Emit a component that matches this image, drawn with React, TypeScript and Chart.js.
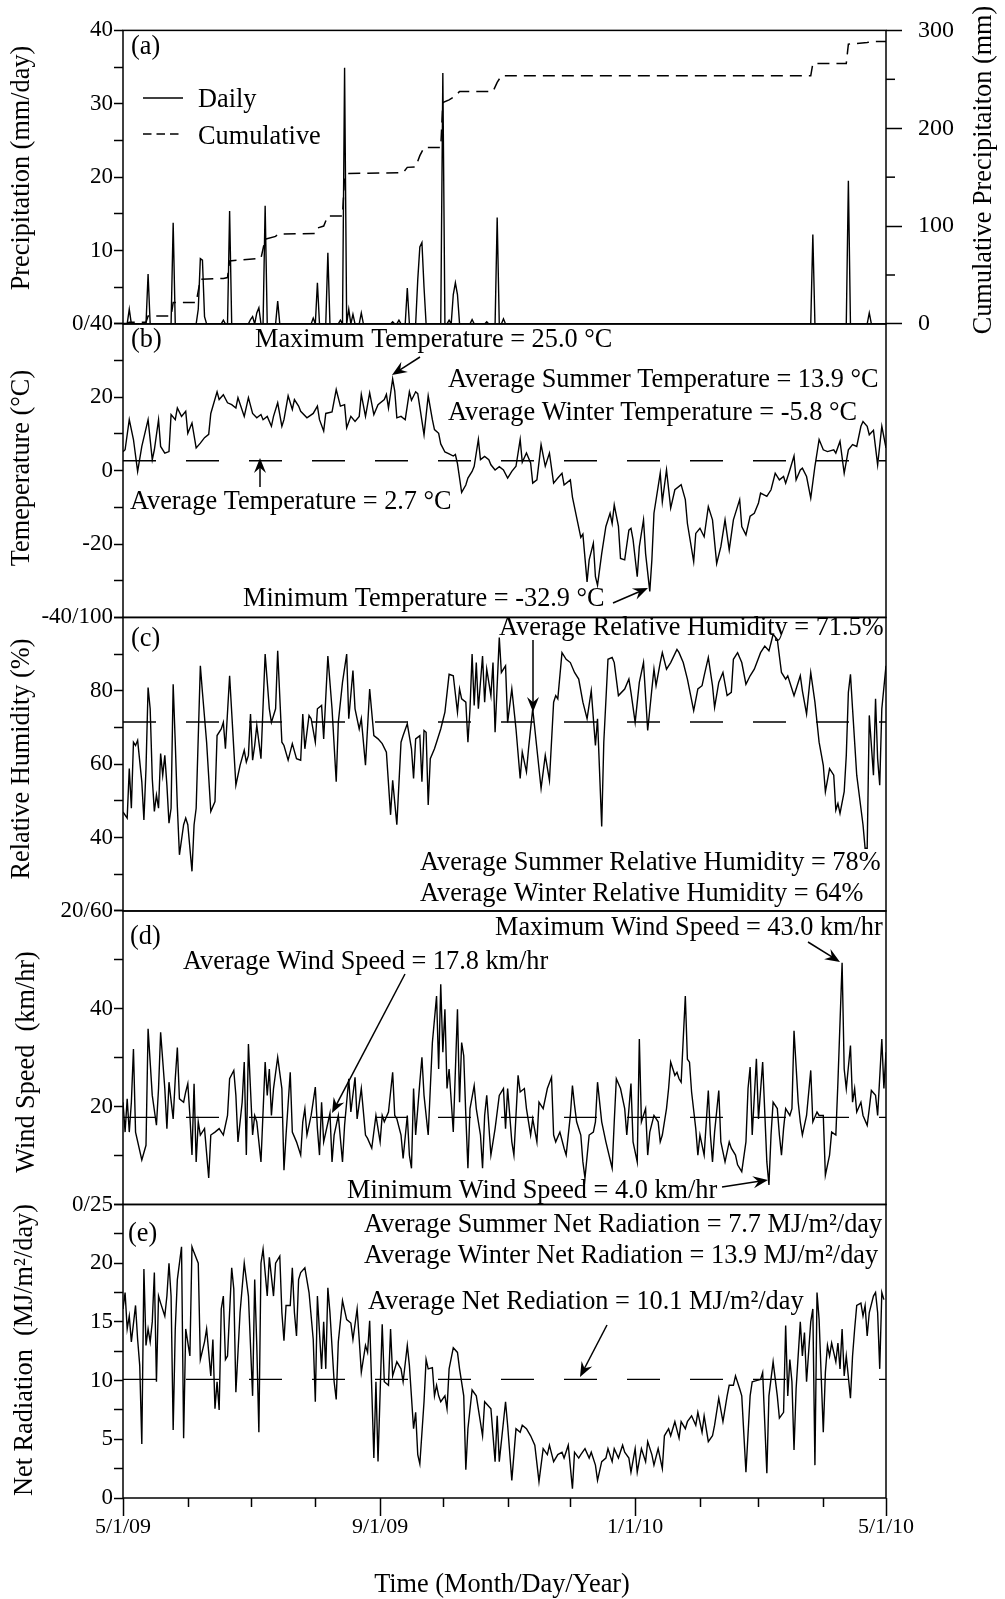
import React, { useEffect, useRef } from 'react';
import { Chart, registerables } from 'chart.js';

Chart.register(...registerables);

// ---------- axis categories (days since 5/1/09) ----------
const monthTickDays = [0, 31, 61, 92, 123, 153, 184, 214, 245, 276, 304, 335, 365];
const monthTickLabels = ['5/1/09', '', '', '', '9/1/09', '', '', '', '1/1/10', '', '', '', '5/1/10'];
const cumTickValues = [0, 50, 100, 150, 200, 250, 300];

// ---------- (a) precipitation ----------
const precipDays = [3, 12, 24, 36, 37, 38, 39, 48, 51, 61, 62, 64, 65, 68, 74, 91, 93, 98, 104, 106, 108, 110, 114, 129, 132, 136, 141, 142, 143, 144, 153, 156, 158, 159, 160, 167, 174, 179, 182, 330, 347, 357];
const precipValues = [2.0, 6.8, 13.8, 2.0, 8.9, 8.7, 1.0, 0.5, 15.4, 0.6, 1.0, 1.5, 2.2, 16.1, 3.1, 0.8, 5.6, 9.7, 0.5, 34.9, 2.0, 1.3, 1.5, 0.3, 0.5, 4.9, 6.0, 10.5, 11.1, 5.0, 34.2, 0.5, 4.0, 5.6, 4.0, 0.6, 0.3, 14.5, 0.7, 12.2, 19.5, 1.5];
const cumDays = [0, 2, 3, 11, 12, 23, 24, 35, 36, 37, 48, 50, 51, 66, 68, 73, 74, 92, 93, 96, 98, 105, 106, 108, 134, 136, 140, 142, 144, 152, 153, 156, 159, 161, 177, 179, 181, 329, 330, 346, 347, 356, 358, 365];
const cumValues = [0.5, 0.8, 1.8, 1.8, 8.2, 8.2, 21.8, 21.8, 33.7, 45.7, 46.5, 47.4, 64.4, 67.0, 86.6, 89.5, 91.7, 92.5, 98.0, 100.0, 110.4, 110.4, 151.3, 153.7, 154.5, 160.0, 160.5, 172.0, 180.3, 180.3, 226.3, 229.0, 233.0, 237.6, 237.6, 246.8, 253.6, 253.6, 266.2, 266.2, 286.0, 287.6, 288.6, 288.6];

// ---------- (b) temperature ----------
const tempDays = [
  0, 1, 3, 5, 7, 9, 12, 14, 15, 17,
  18, 20, 22, 23, 25, 26, 28, 30, 31, 33,
  35, 37, 39, 41, 42, 45, 46, 48, 50, 52,
  54, 55, 58, 60, 62, 64, 66, 67, 69, 71,
  72, 74, 76, 77, 79, 81, 82, 84, 85, 88,
  89, 91, 93, 94, 96, 97, 100, 102, 104, 106,
  107, 109, 111, 113, 114, 116, 118, 120, 122, 125,
  126, 127, 129, 130, 131, 133, 135, 137, 138, 140,
  141, 142, 144, 146, 148, 149, 151, 152, 154, 156,
  158, 159, 160, 162, 164, 165, 167, 168, 170, 171,
  173, 175, 176, 178, 180, 182, 184, 186, 188, 190,
  191, 193, 195, 196, 198, 200, 202, 204, 206, 208,
  210, 211, 214, 215, 217, 219, 220, 222, 223, 225,
  226, 227, 229, 231, 233, 234, 235, 237, 238, 240,
  242, 243, 244, 246, 247, 248, 249, 250, 252, 253,
  254, 257, 258, 260, 262, 264, 267, 269, 270, 273,
  274, 276, 278, 280, 282, 284, 286, 288, 290, 292,
  295, 296, 298, 300, 302, 304, 305, 308, 310, 312,
  314, 316, 317, 319, 321, 322, 324, 325, 327, 329,
  331, 333, 335, 337, 340, 341, 343, 345, 347, 349,
  351, 353, 354, 356, 357, 359, 361, 363, 365,
];
const tempValues = [
  5.2, 5.7, 13.9, 8.5, -0.2, 6.6, 13.9, 3.0, 5.7, 13.9,
  6.6, 4.8, 5.2, 15.3, 13.9, 17.1, 14.8, 16.2, 10.2, 13.0,
  6.2, 7.5, 9.0, 9.9, 15.6, 21.5, 19.4, 20.7, 18.5, 18.0,
  17.1, 19.9, 14.8, 19.9, 15.6, 14.4, 15.3, 13.9, 14.8, 12.1,
  14.8, 18.5, 12.1, 13.9, 20.4, 16.7, 19.4, 17.6, 16.2, 14.4,
  14.8, 15.6, 17.6, 13.9, 10.8, 15.6, 16.0, 22.1, 17.6, 18.0,
  11.7, 14.8, 13.4, 14.8, 20.8, 14.8, 21.2, 15.3, 18.0, 19.4,
  20.8, 17.1, 25.0, 21.7, 14.4, 14.8, 13.9, 21.5, 19.2, 21.5,
  21.0, 17.3, 9.8, 20.4, 13.9, 11.2, 10.2, 7.3, 5.1, 4.6,
  4.0, 4.4, 1.9, -5.9, -3.9, -2.0, -0.2, 1.2, 8.5, 3.0,
  3.9, 3.0, 1.6, 0.2, 1.1, 0.2, -2.0, -0.2, 1.2, 8.5,
  2.3, 4.8, 2.1, -3.4, -2.5, 7.1, 1.2, 4.8, -3.4, -2.0,
  -0.7, -3.9, -2.5, -7.2, -12.7, -18.2, -17.3, -30.3, -24.3, -19.8,
  -28.9, -31.2, -22.6, -15.2, -11.6, -14.4, -9.3, -15.2, -23.9, -24.3,
  -16.2, -15.7, -18.8, -28.9, -20.7, -17.0, -13.4, -22.6, -32.9, -24.3,
  -11.6, -0.7, -8.5, 0.2, -10.2, -5.2, -3.8, -7.9, -14.4, -24.8,
  -17.1, -15.7, -18.0, -9.8, -13.4, -25.3, -20.7, -13.4, -21.6, -13.4,
  -7.9, -15.2, -17.5, -12.4, -11.6, -8.8, -6.1, -7.0, -5.2, -0.7,
  -2.5, -1.6, -3.4, 0.2, 4.0, -2.5, 0.2, 0.7, -1.6, -7.5,
  1.2, 8.5, 5.7, 5.2, 5.7, 4.8, 8.0, -0.7, 5.7, 7.1,
  6.6, 12.1, 13.4, 12.1, 9.8, 11.0, 1.6, 12.1, 6.2,
];
const avgTemperature = 2.7;

// ---------- (c) relative humidity ----------
const rhDays = [
  0, 2, 3, 4, 5, 6, 7, 9, 10, 11,
  12, 13, 14, 15, 16, 17, 18, 19, 20, 21,
  22, 23, 24, 25, 26, 27, 29, 30, 31, 33,
  34, 35, 37, 38, 40, 42, 44, 45, 47, 48,
  49, 51, 53, 54, 56, 58, 59, 60, 61, 62,
  63, 64, 66, 68, 70, 71, 73, 74, 76, 77,
  79, 81, 83, 85, 86, 87, 89, 90, 92, 93,
  95, 96, 98, 100, 102, 103, 105, 107, 108, 110,
  111, 113, 114, 116, 118, 120, 122, 124, 126, 128,
  129, 131, 133, 134, 136, 138, 139, 140, 142, 143,
  144, 145, 146, 147, 149, 150, 152, 154, 156, 158,
  160, 161, 162, 164, 165, 166, 167, 168, 169, 170,
  172, 173, 174, 176, 177, 178, 180, 181, 183, 184,
  186, 188, 190, 191, 193, 194, 196, 198, 200, 202,
  204, 206, 207, 208, 210, 212, 214, 216, 218, 220,
  222, 224, 226, 227, 229, 230, 232, 234, 235, 237,
  240, 242, 243, 245, 247, 249, 251, 253, 254, 255,
  257, 258, 260, 262, 265, 266, 268, 270, 273, 275,
  277, 278, 280, 282, 283, 285, 287, 289, 291, 292,
  294, 296, 298, 300, 302, 305, 307, 309, 310, 311,
  313, 315, 317, 318, 320, 321, 324, 325, 327, 329,
  331, 333, 335, 336, 338, 340, 341, 342, 343, 345,
  346, 347, 348, 349, 351, 353, 354, 355, 356, 357,
  359, 360, 361, 362, 363, 365,
];
const rhValues = [
  47.0, 45.3, 58.8, 48.0, 66.0, 65.1, 66.5, 55.2, 44.8, 58.8,
  80.9, 75.1, 56.1, 47.1, 51.6, 48.0, 62.9, 57.0, 62.4, 54.3,
  43.9, 48.0, 81.8, 66.0, 48.4, 35.3, 43.5, 45.3, 43.5, 30.8,
  43.5, 48.0, 86.8, 79.6, 66.0, 47.1, 49.8, 67.8, 69.6, 71.4,
  64.2, 84.1, 64.2, 54.3, 59.7, 63.8, 60.6, 62.4, 73.7, 61.1,
  65.1, 70.6, 61.5, 90.0, 75.1, 71.4, 75.1, 90.9, 66.0, 65.1,
  61.1, 65.6, 61.5, 61.1, 73.7, 64.2, 73.3, 72.4, 66.0, 75.1,
  76.0, 66.9, 89.5, 75.1, 55.2, 71.4, 82.3, 90.0, 72.4, 85.5,
  75.1, 69.6, 72.4, 59.7, 80.5, 67.8, 66.9, 65.6, 63.3, 46.2,
  55.6, 43.5, 66.0, 67.8, 71.0, 64.2, 56.1, 66.9, 67.8, 55.2,
  69.2, 68.7, 48.9, 61.5, 64.2, 66.0, 69.6, 74.2, 84.5, 84.1,
  74.2, 80.5, 77.8, 76.9, 66.0, 75.1, 90.0, 76.0, 87.7, 75.1,
  89.5, 76.9, 85.9, 78.7, 87.7, 68.7, 94.5, 85.0, 86.8, 71.4,
  80.5, 69.6, 56.1, 63.3, 57.9, 64.2, 75.1, 64.2, 53.4, 62.4,
  55.6, 76.9, 78.7, 77.8, 90.4, 88.6, 87.7, 85.0, 83.2, 76.9,
  72.4, 80.0, 65.1, 72.4, 43.0, 66.0, 88.6, 89.1, 87.7, 78.7,
  80.5, 83.2, 79.6, 71.4, 82.3, 87.7, 69.2, 80.5, 85.9, 81.4,
  87.7, 90.4, 85.9, 87.7, 91.3, 90.4, 87.7, 83.2, 74.6, 80.5,
  81.4, 84.1, 89.1, 81.4, 75.5, 82.3, 85.0, 78.7, 79.6, 88.6,
  90.4, 87.7, 81.8, 84.1, 85.9, 90.4, 92.2, 90.9, 93.1, 95.4,
  94.0, 85.0, 83.2, 84.1, 80.5, 78.7, 84.1, 80.0, 73.7, 85.0,
  76.9, 66.0, 59.7, 52.5, 58.8, 57.0, 47.5, 49.3, 46.6, 52.5,
  62.4, 79.6, 84.5, 75.1, 57.0, 48.0, 43.5, 37.1, 37.1, 73.3,
  57.0, 77.8, 61.5, 54.3, 75.1, 86.8,
];
const avgHumidity = 71.5;

// ---------- (d) wind speed ----------
const windDays = [
  0, 1, 2, 3, 4, 5, 6, 9, 11, 12,
  14, 16, 17, 18, 20, 21, 22, 24, 25, 26,
  27, 29, 30, 31, 32, 33, 34, 35, 36, 37,
  39, 41, 42, 44, 46, 48, 50, 51, 53, 54,
  55, 57, 58, 59, 60, 62, 63, 64, 66, 68,
  69, 70, 71, 72, 74, 76, 77, 78, 80, 81,
  83, 85, 86, 87, 88, 90, 92, 93, 94, 95,
  96, 99, 100, 101, 103, 105, 106, 108, 109, 111,
  112, 114, 116, 117, 119, 121, 123, 124, 125, 127,
  129, 130, 131, 133, 134, 136, 137, 138, 139, 140,
  142, 143, 144, 146, 147, 148, 150, 151, 152, 153,
  154, 155, 156, 158, 160, 161, 162, 163, 164, 165,
  166, 168, 169, 171, 172, 173, 174, 176, 178, 180,
  182, 183, 184, 186, 187, 189, 190, 192, 193, 195,
  196, 198, 199, 201, 203, 205, 206, 207, 209, 211,
  212, 214, 215, 216, 217, 219, 220, 221, 223, 225,
  226, 227, 229, 231, 234, 235, 236, 238, 240, 241,
  243, 244, 246, 247, 248, 250, 251, 252, 254, 256,
  257, 258, 260, 261, 262, 264, 265, 266, 267, 269,
  270, 271, 272, 274, 275, 276, 278, 280, 281, 282,
  283, 285, 286, 288, 290, 291, 293, 294, 296, 298,
  299, 300, 301, 303, 304, 306, 308, 309, 310, 311,
  313, 314, 315, 316, 317, 319, 320, 321, 323, 324,
  325, 327, 329, 330, 332, 333, 335, 336, 338, 339,
  341, 342, 344, 345, 346, 348, 349, 350, 351, 353,
  354, 356, 357, 358, 360, 361, 363, 364, 365,
];
const windValues = [
  20.9, 14.8, 21.6, 14.8, 20.9, 31.8, 14.8, 9.1, 12.1, 35.9,
  22.3, 16.2, 23.7, 35.2, 23.7, 15.5, 25.0, 17.5, 25.7, 32.1,
  21.6, 20.9, 23.0, 24.7, 18.2, 10.1, 24.7, 8.7, 16.9, 14.2,
  15.5, 5.4, 14.2, 14.8, 15.5, 14.2, 18.2, 25.7, 27.4, 22.3,
  12.8, 20.9, 29.1, 10.1, 32.8, 14.2, 18.2, 16.9, 8.7, 29.1,
  22.3, 27.7, 18.2, 23.7, 30.1, 23.7, 7.0, 14.2, 27.0, 14.8,
  12.8, 10.1, 16.9, 19.6, 14.2, 18.2, 24.0, 15.5, 10.1, 20.9,
  12.8, 18.6, 8.7, 14.2, 18.2, 8.7, 16.2, 25.7, 18.9, 26.0,
  17.5, 23.7, 14.2, 13.5, 11.5, 18.2, 12.8, 18.2, 16.9, 18.9,
  27.0, 18.2, 17.5, 14.2, 9.4, 18.2, 10.1, 7.4, 23.7, 14.2,
  25.0, 30.1, 22.3, 14.2, 23.7, 33.1, 42.6, 27.7, 45.0, 31.1,
  39.9, 23.7, 27.7, 14.8, 39.9, 20.9, 33.1, 30.4, 18.2, 7.4,
  19.6, 24.3, 19.6, 14.2, 7.4, 18.2, 22.3, 10.1, 15.5, 22.3,
  23.7, 15.5, 23.7, 12.8, 10.1, 26.4, 23.0, 23.7, 19.6, 14.2,
  17.5, 12.8, 20.9, 19.6, 23.7, 26.0, 14.2, 12.8, 14.8, 11.5,
  10.1, 18.2, 24.3, 20.3, 16.9, 14.2, 8.7, 5.4, 14.2, 14.8,
  16.9, 25.0, 16.9, 12.8, 7.4, 16.9, 25.7, 23.7, 19.6, 14.2,
  24.7, 12.8, 8.7, 33.8, 16.9, 19.6, 10.1, 14.8, 18.2, 16.9,
  12.8, 14.2, 19.6, 23.7, 29.1, 26.4, 27.0, 25.7, 25.0, 42.6,
  29.7, 29.1, 23.0, 15.5, 10.1, 14.2, 10.1, 23.3, 14.2, 8.7,
  14.8, 23.3, 12.8, 8.7, 12.8, 11.5, 10.1, 8.1, 6.7, 12.8,
  23.7, 28.1, 14.2, 29.8, 17.5, 29.1, 8.7, 4.0, 14.2, 20.9,
  19.6, 14.2, 10.1, 15.5, 19.6, 18.2, 19.6, 35.5, 20.9, 16.9,
  14.2, 18.2, 27.4, 16.9, 18.9, 18.2, 18.2, 6.0, 10.1, 14.8,
  14.2, 25.0, 49.4, 27.7, 23.7, 32.5, 20.9, 23.7, 18.9, 20.9,
  18.2, 16.2, 19.6, 23.3, 22.3, 18.2, 33.8, 23.7, 31.1,
];
const avgWind = 17.8;

// ---------- (e) net radiation ----------
const radDays = [
  0, 1, 2, 3, 4, 6, 7, 8, 9, 10,
  11, 12, 13, 14, 15, 16, 17, 18, 20, 21,
  22, 23, 24, 25, 26, 28, 29, 30, 32, 33,
  34, 36, 37, 39, 40, 42, 43, 44, 45, 46,
  47, 48, 49, 50, 52, 53, 54, 56, 58, 60,
  62, 63, 64, 65, 66, 67, 69, 70, 72, 73,
  75, 76, 77, 78, 80, 81, 82, 83, 84, 85,
  87, 89, 91, 92, 93, 95, 96, 97, 98, 99,
  101, 102, 103, 105, 107, 109, 110, 112, 113, 114,
  116, 117, 118, 119, 120, 121, 122, 124, 125, 127,
  128, 129, 131, 133, 134, 136, 137, 139, 140, 141,
  142, 144, 145, 146, 148, 149, 150, 151, 152, 154,
  155, 156, 158, 160, 161, 163, 164, 165, 167, 169,
  172, 173, 176, 178, 179, 180, 183, 184, 186, 188,
  190, 191, 193, 195, 197, 199, 201, 203, 204, 206,
  208, 210, 211, 213, 215, 216, 218, 219, 221, 223,
  224, 226, 227, 229, 231, 232, 234, 235, 237, 239,
  240, 242, 243, 245, 246, 248, 250, 251, 253, 254,
  256, 258, 259, 261, 262, 264, 266, 267, 269, 270,
  272, 274, 275, 277, 278, 280, 282, 283, 285, 287,
  289, 290, 292, 293, 295, 296, 298, 300, 301, 303,
  305, 306, 308, 309, 311, 313, 314, 316, 317, 318,
  319, 320, 321, 322, 324, 325, 326, 327, 329, 330,
  331, 332, 333, 335, 336, 337, 338, 339, 341, 342,
  343, 344, 345, 346, 348, 349, 350, 351, 353, 354,
  355, 356, 357, 359, 360, 361, 362, 363, 364,
];
const radValues = [
  16.1, 17.5, 14.4, 15.5, 13.3, 16.4, 13.5, 11.3, 4.6, 19.5,
  13.0, 14.4, 13.3, 15.0, 19.2, 9.9, 17.2, 16.6, 15.5, 17.2,
  20.0, 17.2, 5.8, 14.4, 18.6, 21.4, 5.1, 14.4, 12.1, 21.4,
  20.9, 20.0, 11.8, 13.3, 14.4, 10.4, 13.5, 7.6, 9.9, 7.5,
  16.1, 17.2, 11.8, 12.1, 19.6, 17.8, 9.0, 15.8, 20.0, 17.2,
  8.7, 18.6, 13.0, 5.6, 20.0, 21.2, 17.2, 20.5, 17.2, 20.0,
  20.6, 15.8, 13.4, 16.4, 16.4, 19.6, 15.8, 13.8, 18.6, 19.2,
  19.6, 17.5, 13.5, 8.2, 17.2, 11.0, 15.0, 11.0, 17.9, 15.8,
  9.9, 8.4, 13.3, 16.8, 15.2, 14.9, 13.5, 16.1, 13.5, 10.7,
  13.0, 12.4, 15.1, 9.3, 3.4, 9.9, 3.1, 14.8, 9.9, 9.6,
  14.4, 10.4, 11.6, 11.0, 9.9, 13.0, 11.3, 5.9, 7.3, 3.7,
  2.9, 8.2, 11.8, 11.0, 11.1, 8.7, 9.6, 8.7, 8.2, 8.7,
  7.6, 11.0, 12.8, 12.4, 11.0, 8.7, 2.4, 5.9, 9.2, 8.7,
  5.3, 8.2, 7.6, 3.1, 7.0, 3.1, 8.2, 6.2, 1.5, 5.9,
  5.6, 6.2, 5.9, 5.3, 4.5, 1.4, 4.2, 3.7, 4.5, 3.1,
  3.7, 3.9, 3.4, 4.5, 0.8, 3.9, 3.4, 3.7, 4.2, 3.4,
  3.9, 2.8, 1.5, 3.1, 3.4, 4.2, 3.1, 4.2, 3.4, 4.5,
  3.9, 3.4, 2.2, 4.2, 2.2, 4.2, 3.1, 4.8, 3.7, 2.8,
  4.2, 2.5, 5.3, 5.9, 5.3, 6.5, 5.1, 6.5, 5.9, 6.5,
  7.0, 6.2, 7.3, 5.6, 7.0, 4.8, 5.3, 6.2, 8.5, 6.5,
  8.7, 9.6, 9.6, 10.4, 9.3, 8.7, 2.2, 8.7, 9.9, 10.0,
  10.1, 10.7, 2.1, 8.7, 11.6, 8.7, 6.8, 7.3, 14.7, 8.7,
  11.8, 9.9, 4.1, 9.3, 15.0, 12.1, 14.1, 9.9, 15.0, 16.1,
  2.8, 17.5, 15.2, 5.6, 10.7, 13.0, 12.1, 13.2, 11.6, 13.2,
  11.0, 14.4, 10.4, 12.1, 8.5, 12.1, 14.4, 16.4, 16.6, 15.5,
  16.4, 13.8, 15.8, 17.2, 17.5, 15.8, 11.0, 17.5, 16.9,
];
const avgRadiation = 10.1;

const FONT = '"Liberation Serif", "Times New Roman", Times, serif';
const TEXT_PX = 26.3;
const near = (a: number, b: number) => Math.abs(a - b) < 1e-6;

function pts(days: number[], vals: number[]) {
  const n = Math.min(days.length, vals.length);
  const out: { x: number; y: number }[] = [];
  for (let i = 0; i < n; i++) out.push({ x: days[i], y: vals[i] });
  return out;
}

function leftAxis(min: number, max: number, step: number, weight: number, fmt: (v: number) => string) {
  return {
    type: 'linear',
    position: 'left',
    stack: 'panels',
    stackWeight: 1,
    weight,
    min,
    max,
    afterFit: (s: any) => { s.width = 123; },
    border: { display: false },
    grid: { display: true, drawOnChartArea: false, drawTicks: true, tickLength: 9, tickWidth: 1.5, tickColor: '#000' },
    ticks: { stepSize: step, autoSkip: false, padding: 1, color: '#000', font: { family: FONT, size: 23 }, callback: (v: any) => fmt(Number(v)) },
  };
}

const lineDs = (label: string, data: any[], yAxisID: string, extra: any = {}) => ({
  label, data, yAxisID, xAxisID: 'x',
  borderColor: '#000', borderWidth: 1.4, pointRadius: 0, fill: false, tension: 0,
  ...extra,
});

function drawArrow(ctx: CanvasRenderingContext2D, x1: number, y1: number, x2: number, y2: number) {
  const ang = Math.atan2(y2 - y1, x2 - x1);
  const head = 15, w = 6;
  const c = Math.cos(ang), s = Math.sin(ang);
  ctx.beginPath();
  ctx.moveTo(x1, y1);
  ctx.lineTo(x2 - head * 0.6 * c, y2 - head * 0.6 * s);
  ctx.stroke();
  ctx.beginPath();
  ctx.moveTo(x2, y2);
  ctx.lineTo(x2 - head * c + w * s, y2 - head * s - w * c);
  ctx.lineTo(x2 - head * 0.65 * c, y2 - head * 0.65 * s);
  ctx.lineTo(x2 - head * c - w * s, y2 - head * s + w * c);
  ctx.closePath();
  ctx.fill();
}

const overlay = {
  id: 'overlay',
  afterDraw(chart: any) {
    const ctx: CanvasRenderingContext2D = chart.ctx;
    const ca = chart.chartArea;
    const L = ca.left, R = ca.right;
    ctx.save();
    ctx.strokeStyle = '#000';
    ctx.fillStyle = '#000';
    ctx.lineWidth = 1.5;
    // panel frames
    for (const id of ['yA', 'yB', 'yC', 'yD', 'yE']) {
      const s = chart.scales[id];
      ctx.strokeRect(L, s.top, R - L, s.bottom - s.top);
    }
    // minor ticks on x axis
    const xs = chart.scales.x;
    monthTickDays.forEach((d, i) => {
      if (monthTickLabels[i]) return;
      const px = Math.round(xs.getPixelForValue(d)) + 0.5;
      ctx.beginPath(); ctx.moveTo(px, ca.bottom); ctx.lineTo(px, ca.bottom + 9); ctx.stroke();
    });
    // minor ticks on right axis
    const yc = chart.scales.yCum;
    cumTickValues.forEach((v) => {
      if (v % 100 === 0) return;
      const py = yc.getPixelForValue(v);
      ctx.beginPath(); ctx.moveTo(R, py); ctx.lineTo(R + 9, py); ctx.stroke();
    });

    // legend
    ctx.lineWidth = 1.4;
    ctx.beginPath(); ctx.moveTo(143, 98); ctx.lineTo(183, 98); ctx.stroke();
    ctx.setLineDash([8.5, 5]);
    ctx.beginPath(); ctx.moveTo(143, 134); ctx.lineTo(183, 134); ctx.stroke();
    ctx.setLineDash([]);

    ctx.font = `${TEXT_PX}px ${FONT}`;
    ctx.textBaseline = 'middle';
    ctx.textAlign = 'left';
    const texts: [string, number, number][] = [
      ['Daily', 198, 100],
      ['Cumulative', 198, 137],
      ['(a)', 131, 47],
      ['(b)', 131, 340],
      ['(c)', 131, 639],
      ['(d)', 130, 937],
      ['(e)', 128, 1234],
      ['Maximum Temperature = 25.0 °C', 255, 340],
      ['Average Summer Temperature = 13.9 °C', 448, 380],
      ['Average Winter Temperature = -5.8 °C', 448, 413],
      ['Average Temperature = 2.7 °C', 130, 502],
      ['Minimum Temperature = -32.9 °C', 243, 599],
      ['Average Relative Humidity = 71.5%', 499, 628],
      ['Average Summer Relative Humidity = 78%', 420, 863],
      ['Average Winter Relative Humidity = 64%', 420, 894],
      ['Maximum Wind Speed = 43.0 km/hr', 495, 928],
      ['Average Wind Speed = 17.8 km/hr', 183, 962],
      ['Minimum Wind Speed = 4.0 km/hr', 347, 1191],
      ['Average Summer Net Radiation = 7.7 MJ/m²/day', 364, 1225],
      ['Average Winter Net Radiation = 13.9 MJ/m²/day', 364, 1256],
      ['Average Net Rediation = 10.1 MJ/m²/day', 368, 1302],
    ];
    for (const [t, x, y] of texts) ctx.fillText(t, x, y);

    // arrows
    ctx.lineWidth = 1.5;
    const arrows: [number, number, number, number][] = [
      [420, 357, 392, 375],
      [260, 487, 260, 458],
      [613, 603, 648, 588],
      [533, 640, 533, 712],
      [405, 974, 332, 1113],
      [808, 942, 840, 962],
      [722, 1187, 768, 1180],
      [607, 1325, 580, 1377],
    ];
    for (const [a, b, c, d] of arrows) drawArrow(ctx, a, b, c, d);

    // axis titles
    ctx.textAlign = 'center';
    const vtitles: [string, number, number][] = [
      ['Precipitation (mm/day)', 22, 168],
      ['Temeperature (°C)', 22, 468],
      ['Relative Humidity (%)', 22, 759],
      ['Wind Speed  (km/hr)', 27, 1062],
      ['Net Radiation  (MJ/m²/day)', 25, 1350],
      ['Cumulative Precipitaiton (mm)', 984, 170],
    ];
    for (const [t, x, y] of vtitles) {
      ctx.save();
      ctx.translate(x, y);
      ctx.rotate(-Math.PI / 2);
      ctx.fillText(t, 0, 0);
      ctx.restore();
    }
    ctx.fillText('Time (Month/Day/Year)', 502, 1585);
    ctx.restore();
  },
};

export default function App() {
  const ref = useRef<HTMLCanvasElement>(null);
  useEffect(() => {
    const canvas = ref.current;
    if (!canvas) return;
    Chart.defaults.font.family = FONT;
    Chart.defaults.color = '#000';

    const precipDaily: { x: number; y: number }[] = [];
    for (let d = 0; d <= 365; d++) {
      const i = precipDays.indexOf(d);
      precipDaily.push({ x: d, y: i >= 0 ? precipValues[i] : 0 });
    }
    const flat = (v: number) => [{ x: 0, y: v }, { x: 365, y: v }];
    const dash = { borderDash: [33, 30], borderWidth: 1.4 };

    const chart = new Chart(canvas, {
      type: 'line',
      data: {
        datasets: [
          lineDs('Daily', precipDaily, 'yA'),
          lineDs('Cumulative', pts(cumDays, cumValues), 'yCum', { borderDash: [12, 7], borderWidth: 1.5 }),
          lineDs('Temperature', pts(tempDays, tempValues), 'yB'),
          lineDs('Average Temperature', flat(avgTemperature), 'yB', dash),
          lineDs('Relative Humidity', pts(rhDays, rhValues), 'yC'),
          lineDs('Average RH', flat(avgHumidity), 'yC', dash),
          lineDs('Wind Speed', pts(windDays, windValues), 'yD'),
          lineDs('Average Wind', flat(avgWind), 'yD', dash),
          lineDs('Net Radiation', pts(radDays, radValues), 'yE'),
          lineDs('Average Net Radiation', flat(avgRadiation), 'yE', dash),
        ] as any,
      },
      options: {
        responsive: false,
        maintainAspectRatio: false,
        animation: false,
        events: [],
        layout: { padding: { top: 24.5, left: 0, right: 0, bottom: 0 } },
        plugins: { legend: { display: false }, tooltip: { enabled: false } },
        scales: {
          x: {
            type: 'linear',
            position: 'bottom',
            min: 0,
            max: 365,
            afterBuildTicks: (s: any) => { s.ticks = monthTickDays.map((v) => ({ value: v })); },
            afterFit: (s: any) => { s.height = 101; },
            border: { display: false },
            grid: {
              display: true, drawOnChartArea: false, drawTicks: true, tickLength: 18, tickWidth: 1.5,
              tickColor: (c: any) => (c.tick && monthTickLabels[monthTickDays.indexOf(c.tick.value)] ? '#000' : 'rgba(0,0,0,0)'),
            },
            ticks: {
              autoSkip: false, maxRotation: 0, minRotation: 0, padding: 0, color: '#000',
              font: { family: FONT, size: 22, lineHeight: 1 },
              callback: (v: any) => { const i = monthTickDays.indexOf(Number(v)); return i >= 0 ? monthTickLabels[i] : ''; },
            },
          },
          yA: leftAxis(0, 40, 5, 5, (v) => (near(v, 0) ? '0/40' : near(v % 10, 0) ? String(v) : '')),
          yB: leftAxis(-40, 40, 10, 4, (v) => (near(v, -40) ? '-40/100' : near(v, 40) ? '' : near(v % 20, 0) ? String(v) : '')),
          yC: leftAxis(20, 100, 10, 3, (v) => (near(v, 20) ? '20/60' : near(v, 100) ? '' : near(v % 20, 0) ? String(v) : '')),
          yD: leftAxis(0, 60, 10, 2, (v) => (near(v, 0) ? '0/25' : near(v, 60) ? '' : near(v % 20, 0) ? String(v) : '')),
          yE: leftAxis(0, 25, 2.5, 1, (v) => (near(v, 25) ? '' : near(v % 5, 0) ? String(v) : '')),
          yCum: {
            type: 'linear',
            position: 'right',
            min: -1200,
            max: 300,
            afterBuildTicks: (s: any) => { s.ticks = cumTickValues.map((v) => ({ value: v })); },
            afterFit: (s: any) => { s.width = 119; },
            border: { display: false },
            grid: {
              display: true, drawOnChartArea: false, drawTicks: true, tickLength: 16, tickWidth: 1.5,
              tickColor: (c: any) => (c.tick && c.tick.value % 100 === 0 ? '#000' : 'rgba(0,0,0,0)'),
            },
            ticks: {
              autoSkip: false, padding: 16, color: '#000', font: { family: FONT, size: 24 },
              callback: (v: any) => (Number(v) % 100 === 0 ? String(v) : ''),
            },
          },
        } as any,
      },
      plugins: [overlay],
    });
    return () => chart.destroy();
  }, []);

  return (
    <div style={{ position: 'absolute', left: 0, top: 0, width: 1005, height: 1599, background: '#fff' }}>
      <canvas ref={ref} width={1005} height={1599} style={{ display: 'block', width: 1005, height: 1599 }} />
    </div>
  );
}
